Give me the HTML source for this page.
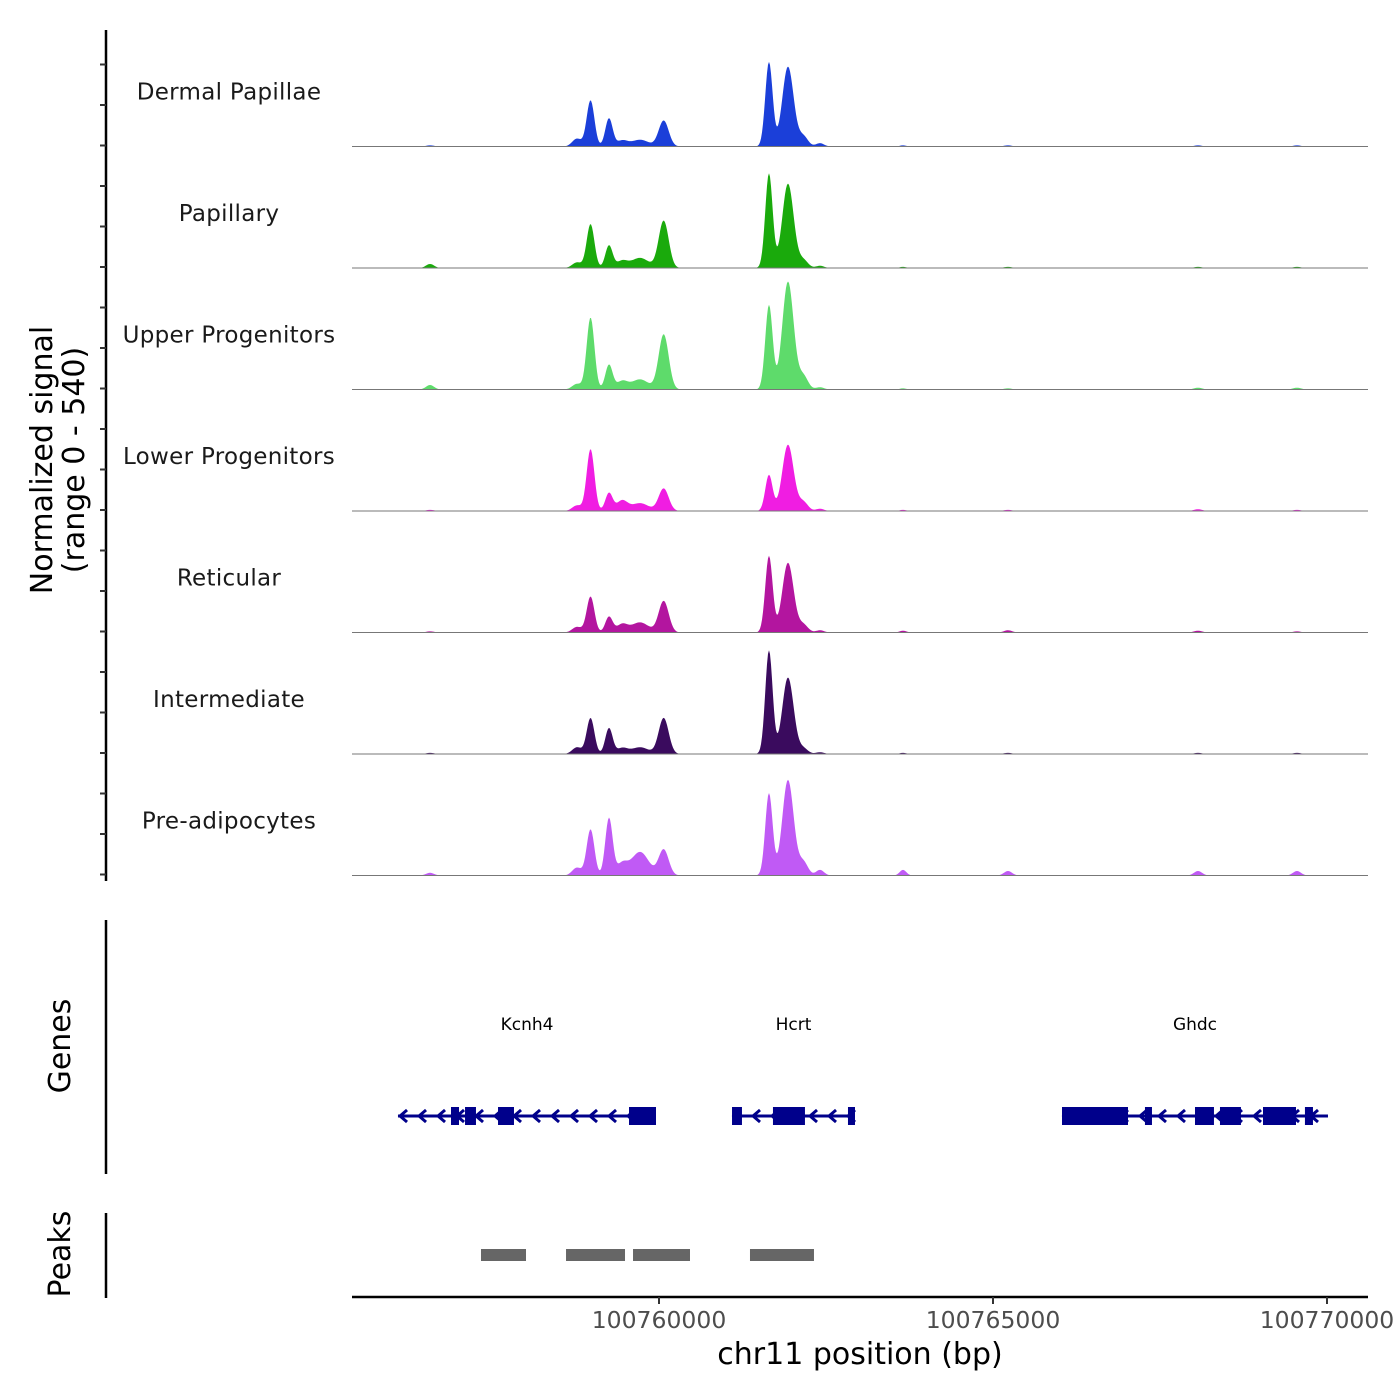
<!DOCTYPE html>
<html><head><meta charset="utf-8"><style>
body{margin:0;background:#fff}
svg{display:block;font-family:"DejaVu Sans","Liberation Sans",sans-serif}
</style></head><body>
<svg id="chart" width="1400" height="1400" viewBox="0 0 1400 1400" xmlns="http://www.w3.org/2000/svg"></svg>
<script>
// ---- data ----
const trackNames = ["Dermal Papillae","Papillary","Upper Progenitors","Lower Progenitors","Reticular","Intermediate","Pre-adipocytes"];
const trackColors = ["#1b3fd9","#1aaa0c","#5edb6b","#f01de2","#b3159f","#3a0b5e","#c05af5"];
const peakCenters = [100756572,100758772,100758975,100759251,100759446,100759715,100760070,100761646,100761931,100762160,100762410,100763652,100765224,100768069,100769551];
const peakSigmas = [60,70,58,55,80,130,75,55,85,70,60,50,60,60,60];
const hDermal = [5,35,205,125,25,30,115,375,355,45,15,5,5,5,5];
const hPapillary = [18,25,195,100,30,45,210,420,375,35,10,5,5,5,5];
const hUpper = [20,25,320,110,35,45,245,375,480,60,10,5,5,8,8];
const hLower = [5,25,275,80,45,35,100,160,295,40,10,5,5,8,5];
const hReticular = [5,25,160,70,35,45,140,340,310,35,10,8,10,8,5];
const hIntermediate = [5,30,160,115,25,30,160,460,340,25,8,5,5,5,5];
const hPreadipo = [12,35,205,255,50,105,115,365,425,60,25,25,20,20,20];
const trackHeights = [hDermal,hPapillary,hUpper,hLower,hReticular,hIntermediate,hPreadipo];
const xTicks = [100760000,100765000,100770000];
const geneNames = ["Kcnh4","Hcrt","Ghdc"];
const geneStarts = [100756093,100761093,100766033];
const geneEnds = [100759955,100762934,100770015];
const geneExons = [
  [[100756886,100757006],[100757096,100757260],[100757590,100757829],[100759551,100759955]],
  [[100761093,100761242],[100761706,100762185],[100762829,100762934]],
  [[100766033,100767021],[100767275,100767380],[100768024,100768308],[100768398,100768712],[100769042,100769536],[100769670,100769790]]
];
const peakStarts = [100757335,100758608,100759611,100761362];
const peakEnds = [100758009,100759491,100760464,100762320];
const yMax = 540;

// ---- scales ----
const X0=352,X1=1368,BP0=100755404,BP1=100770614;
const xs = bp => X0 + (bp-BP0)/(BP1-BP0)*(X1-X0);
const xinv = px => BP0 + (px-X0)/(X1-X0)*(BP1-BP0);
const trackH = 121.5, firstBase = 146.5;
const base = i => firstBase + i*trackH;
const ys = (v,i) => base(i) - v/yMax*trackH;

const NS="http://www.w3.org/2000/svg";
const svg=document.getElementById('chart');
function mk(tag,attrs,parent){const e=document.createElementNS(NS,tag);for(const k in attrs)e.setAttribute(k,attrs[k]);(parent||svg).appendChild(e);return e;}
function txt(s,attrs,parent){const e=mk('text',attrs,parent);e.textContent=s;return e;}

// left axis
const la=mk('line',{x1:106,y1:30,x2:106,y2:881,stroke:'#000','stroke-width':2.5});


for(let y=64.5;y<=880;y+=trackH/3){
  const t=mk('line',{x1:100,y1:y,x2:106,y2:y,stroke:'#333','stroke-width':2});
  
  
}
const yt=txt('',{transform:'translate(52,460) rotate(-90)','text-anchor':'middle','font-size':30,fill:'#000'});


mk('tspan',{x:0,dy:0},yt).textContent='Normalized signal';
mk('tspan',{x:0,dy:32},yt).textContent='(range 0 - 540)';

// tracks
trackNames.forEach((name,i)=>{
  const g=mk('g',{});
  
  
  const hs=trackHeights[i];
  let d='M'+X0+','+base(i);
  for(let px=X0;px<=X1;px+=1){
    const b=xinv(px);let v=0;
    for(let k=0;k<peakCenters.length;k++){const z=(b-peakCenters[k])/peakSigmas[k];v+=hs[k]*Math.exp(-0.5*z*z);}
    d+=' L'+px+','+ys(Math.min(v,yMax),i).toFixed(2);
  }
  d+=' L'+X1+','+base(i)+' Z';
  const a=mk('path',{d:d,fill:trackColors[i]},g);
  
  
  const bl=mk('line',{x1:X0,y1:base(i),x2:X1,y2:base(i),stroke:'#777','stroke-width':1},g);
  
  
  const lb=txt(name,{x:229,y:base(i)-47,'text-anchor':'middle','font-size':23,fill:'#1a1a1a','letter-spacing':'0.3'},g);
  
  
});

// genes panel
const gl=mk('line',{x1:106,y1:920,x2:106,y2:1174,stroke:'#000','stroke-width':2.5});


const gt=txt('Genes',{transform:'translate(70,1046) rotate(-90)','text-anchor':'middle','font-size':30});


const GY=1116,GC='#00008b';
geneNames.forEach((n,i)=>{
  const g=mk('g',{});
  
  
  const x1=xs(geneStarts[i]),x2=xs(geneEnds[i]);
  mk('line',{x1:x1,y1:GY,x2:x2,y2:GY,stroke:GC,'stroke-width':3},g);
  for(let ax=x1+2;ax<x2-4;ax+=19){
    mk('path',{d:`M${ax+7},${GY-6} L${ax},${GY} L${ax+7},${GY+6}`,fill:'none',stroke:GC,'stroke-width':3},g);
  }
  geneExons[i].forEach(e=>{
    const r=mk('rect',{x:xs(e[0]),y:GY-9,width:xs(e[1])-xs(e[0]),height:18,fill:GC},g);
    
    
  });
  const l=txt(n,{x:(x1+x2)/2,y:1030,'text-anchor':'middle','font-size':17,fill:'#000'},g);
  
  
});

// peaks panel
const pl=mk('line',{x1:106,y1:1213,x2:106,y2:1298,stroke:'#000','stroke-width':2.5});


const pt=txt('Peaks',{transform:'translate(70,1254) rotate(-90)','text-anchor':'middle','font-size':30});


peakStarts.forEach((s,i)=>{
  const r=mk('rect',{x:xs(s),y:1249,width:xs(peakEnds[i])-xs(s),height:12,fill:'#666'});
  
  
});

// x axis
const xa=mk('line',{x1:X0,y1:1297,x2:X1,y2:1297,stroke:'#000','stroke-width':2.5});


xTicks.forEach(t=>{
  const tk=mk('line',{x1:xs(t),y1:1297,x2:xs(t),y2:1304,stroke:'#333','stroke-width':2});
  
  
  const tl=txt(String(t),{x:xs(t),y:1328,'text-anchor':'middle','font-size':23.5,fill:'#4d4d4d'});
  
  
});
const xt=txt('chr11 position (bp)',{x:860,y:1364,'text-anchor':'middle','font-size':30,fill:'#000'});


</script>
</body></html>
